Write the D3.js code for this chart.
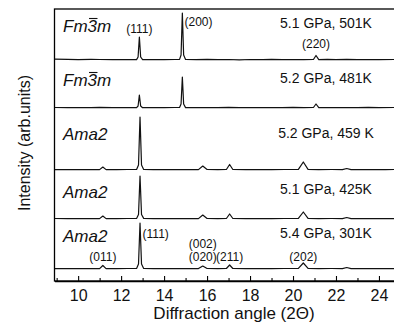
<!DOCTYPE html>
<html>
<head>
<meta charset="utf-8">
<script src="https://cdn.jsdelivr.net/npm/d3@7"></script>
<style>
  body { margin: 0; background: #fff; }
  svg { display: block; font-family: "Liberation Sans", Arial, sans-serif; }
</style>
</head>
<body>
<svg id="chart" width="394" height="333"></svg>
<script>
// x-ray diffraction patterns, top panel first
const phases = ["Fm3m", "Fm3m", "Ama2", "Ama2", "Ama2"];
const conditions = ["5.1 GPa, 501K", "5.2 GPa, 481K", "5.2 GPa, 459 K", "5.1 GPa, 425K", "5.4 GPa, 301K"];
const offsets = [221, 173, 111, 62, 12]; // vertical stacking, arb. units
const xTicks = [10, 12, 14, 16, 18, 20, 22, 24];
const xMinor = [9, 11, 13, 15, 17, 19, 21, 23];

// [2theta, intensity]
const trace501 = [[8.9,0.8],[9.5,0.6],[10,0.4],[10.6,0.6],[11,0.5],[11.6,0.3],[12,0.5],[12.5,0.3],[12.72,0.4],[12.79,3],[12.85,23],[12.91,3],[13.0,0.3],
  [13.5,0.5],[14,0.3],[14.5,0.5],[14.72,0.6],[14.79,5],[14.85,47],[14.91,5],[15.0,0.5],[15.5,0.3],[16,0.6],[16.5,0.3],[17,0.5],[17.5,0.2],
  [18,0.5],[18.6,0.3],[19,0.6],[19.5,0.3],[20,0.5],[20.5,0.3],[20.95,0.5],[21.07,4.5],[21.2,0.4],[21.6,0.6],[22,0.3],[22.5,0.6],[23,0.3],[23.5,0.5],[24,0.3],[24.7,0.5]];
const trace481 = [[8.9,0.5],[9.5,0.3],[10,0.5],[10.6,0.3],[11,0.6],[11.6,0.3],[12,0.4],[12.5,0.3],[12.72,0.4],[12.79,2],[12.85,13],[12.91,2],[13.0,0.3],
  [13.5,0.5],[14,0.3],[14.5,0.5],[14.72,0.5],[14.79,4],[14.85,31],[14.91,4],[15.0,0.4],[15.5,0.3],[16,0.5],[16.5,0.3],[17,0.6],[17.5,0.3],
  [18,0.5],[18.6,0.3],[19,0.5],[19.5,0.3],[20,0.6],[20.5,0.3],[20.95,0.5],[21.07,4],[21.2,0.4],[21.6,0.5],[22,0.3],[22.5,0.5],[23,0.3],[23.5,0.6],[24,0.3],[24.7,0.5]];
const trace459 = [[8.9,0.4],[9.5,0.3],[10,0.5],[10.5,0.3],[11.0,0.4],[11.15,3],[11.3,0.4],[11.8,0.3],[12.3,0.5],[12.72,0.5],[12.81,5],[12.88,53],[12.95,5],[13.05,0.6],
  [13.5,0.4],[14,0.5],[14.5,0.3],[15,0.5],[15.6,0.4],[15.8,4],[16.0,0.5],[16.5,0.3],[16.9,0.5],[17.05,5.5],[17.2,0.5],[17.8,0.3],[18.4,0.5],[19,0.3],
  [19.6,0.5],[20.25,0.6],[20.48,8],[20.7,0.7],[21.2,0.4],[21.8,0.5],[22.3,0.4],[22.5,1.5],[22.7,0.4],[23.2,0.3],[23.8,0.5],[24.3,0.3],[24.7,0.5]];
const trace425 = [[8.9,0.5],[9.5,0.3],[10,0.5],[10.5,0.3],[11.0,0.4],[11.15,3],[11.3,0.4],[11.8,0.3],[12.3,0.5],[12.72,0.5],[12.81,4.5],[12.88,43],[12.95,4.5],[13.05,0.6],
  [13.5,0.4],[14,0.5],[14.5,0.3],[15,0.5],[15.6,0.4],[15.8,4],[16.0,0.5],[16.5,0.3],[16.9,0.5],[17.05,5],[17.2,0.5],[17.8,0.3],[18.4,0.5],[19,0.3],
  [19.6,0.5],[20.25,0.6],[20.48,7],[20.7,0.7],[21.2,0.4],[21.8,0.5],[22.3,0.4],[22.5,1.5],[22.7,0.4],[23.2,0.3],[23.8,0.5],[24.3,0.3],[24.7,0.4]];
const trace301 = [[8.9,0.4],[9.5,0.3],[10,0.5],[10.5,0.3],[11.0,0.4],[11.15,3.5],[11.3,0.4],[11.8,0.3],[12.3,0.5],[12.72,0.5],[12.81,5],[12.88,46],[12.95,5],[13.05,0.6],
  [13.5,0.4],[14,0.5],[14.5,0.3],[15,0.5],[15.6,0.4],[15.8,3],[16.0,0.5],[16.5,0.3],[16.9,0.5],[17.05,4],[17.2,0.5],[17.8,0.3],[18.4,0.5],[19,0.3],
  [19.6,0.5],[20.25,0.6],[20.48,6],[20.7,0.7],[21.2,0.4],[21.8,0.5],[22.3,0.4],[22.5,1.5],[22.7,0.4],[23.2,0.3],[23.8,0.5],[24.3,0.3],[24.7,0.4]];
const traces = [trace501, trace481, trace459, trace425, trace301];

// peak index labels: [2theta, panel, text, anchor, dy above baseline]
const hkl = [
  [12.85, 0, "(111)", "middle", 27],
  [14.95, 0, "(200)", "start", 34],
  [21.07, 0, "(220)", "middle", 12],
  [11.15, 4, "(011)", "middle", 8],
  [13.0, 4, "(111)", "start", 31],
  [15.8, 4, "(002)", "middle", 21],
  [15.8, 4, "(020)", "middle", 8],
  [17.05, 4, "(211)", "middle", 8],
  [20.48, 4, "(202)", "middle", 8]
];

const svg = d3.select("#chart");
const mLeft = 54.5, mRight = 394, mTop = 9, mBottom = 281;

const x = d3.scaleLinear().domain([8.9, 24.7]).range([mLeft, mRight]);
const y = d3.scaleLinear().domain([0, 272]).range([mBottom, mTop]);

const line = d3.line()
  .x(d => x(d[0]))
  .y(d => y(d[1]));

// traces
svg.append("g")
  .selectAll("path")
  .data(traces)
  .join("path")
    .attr("fill", "none")
    .attr("stroke", "#111")
    .attr("stroke-width", 1.2)
    .attr("stroke-linejoin", "round")
    .attr("d", (t, i) => line(t.map(d => [d[0], d[1] + offsets[i]])));

// frame
svg.append("rect")
  .attr("x", mLeft).attr("y", mTop)
  .attr("width", mRight + 2 - mLeft).attr("height", mBottom - mTop)
  .attr("fill", "none").attr("stroke", "#000").attr("stroke-width", 1.3);

// x axis, ticks inside
const xAxis = svg.append("g")
  .attr("transform", `translate(0,${mBottom})`)
  .call(d3.axisBottom(x).tickValues(xTicks).tickSizeInner(-5).tickSizeOuter(0).tickPadding(9));
xAxis.select(".domain").attr("stroke-width", 1.3);
xAxis.selectAll(".tick line").attr("stroke-width", 1.1);
xAxis.selectAll(".tick text").attr("font-size", 16).attr("fill", "#111")
  .style("font-family", "'Liberation Sans', Arial, sans-serif");

const xAxisMinor = svg.append("g")
  .attr("transform", `translate(0,${mBottom})`)
  .call(d3.axisBottom(x).tickValues(xMinor).tickSizeInner(-3).tickSizeOuter(0).tickFormat(""));
xAxisMinor.select(".domain").remove();
xAxisMinor.selectAll(".tick line").attr("stroke-width", 1.1);

// phase names (italic, bar over the 3)
const phaseY = [32, 86, 140, 198, 242];
phases.forEach((p, i) => {
  const t = svg.append("text")
    .attr("x", 63).attr("y", phaseY[i])
    .attr("font-size", 17).attr("font-style", "italic").attr("fill", "#111")
    .text(p);
  if (p === "Fm3m") {
    const box = t.node().getExtentOfChar(2);
    svg.append("line")
      .attr("x1", box.x + 1.5).attr("x2", box.x + box.width + 0.5)
      .attr("y1", box.y + 1.5).attr("y2", box.y + 1.5)
      .attr("stroke", "#111").attr("stroke-width", 1.1);
  }
});

// pressure / temperature
const condY = [28, 83, 138, 194, 238];
svg.append("g")
  .selectAll("text")
  .data(conditions)
  .join("text")
    .attr("x", 326).attr("y", (d, i) => condY[i])
    .attr("text-anchor", "middle")
    .attr("font-size", 14).attr("fill", "#111")
    .text(d => d);

// Miller indices
svg.append("g")
  .selectAll("text")
  .data(hkl)
  .join("text")
    .attr("x", d => x(d[0]))
    .attr("y", d => y(offsets[d[1]] + d[4]))
    .attr("text-anchor", d => d[3])
    .attr("font-size", 12).attr("fill", "#111")
    .text(d => d[2]);

// axis titles
svg.append("text")
  .attr("x", 234).attr("y", 319)
  .attr("text-anchor", "middle").attr("font-size", 17).attr("fill", "#111")
  .text("Diffraction angle (2Θ)");

svg.append("text")
  .attr("transform", "translate(30,143) rotate(-90)")
  .attr("text-anchor", "middle").attr("font-size", 16).attr("fill", "#111")
  .text("Intensity (arb.units)");
</script>
</body>
</html>
